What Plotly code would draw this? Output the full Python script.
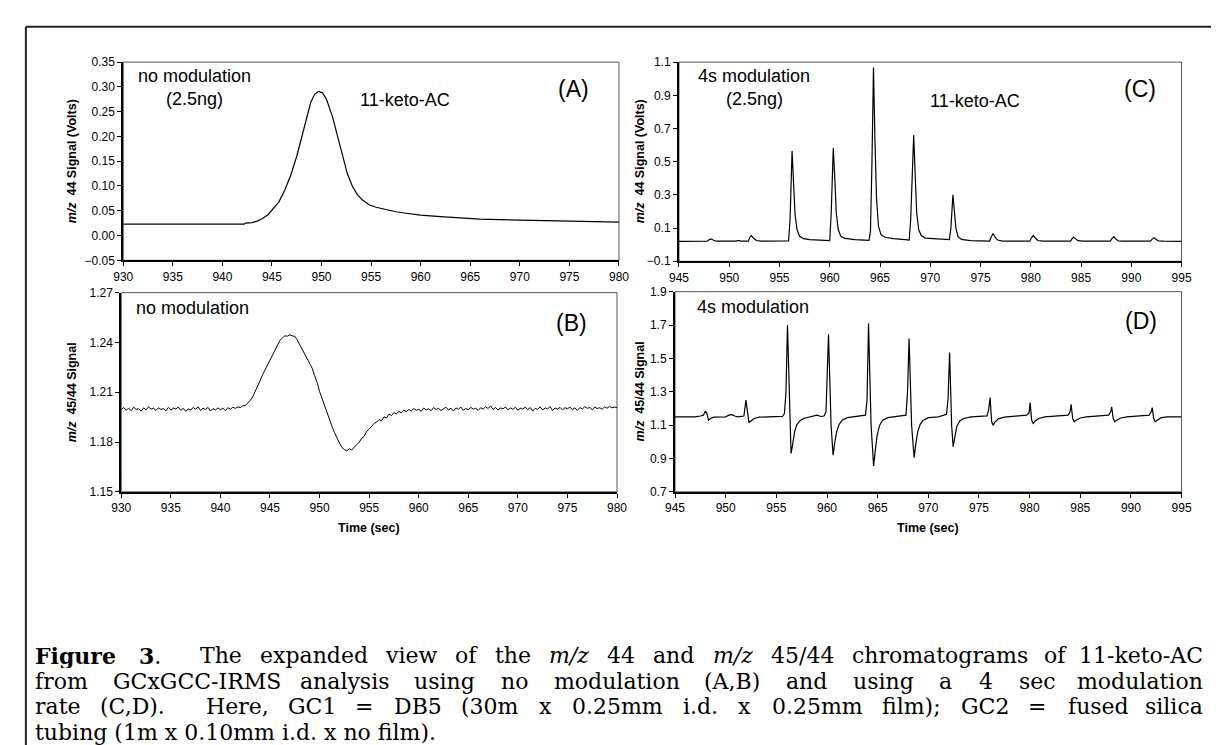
import re
import plotly.graph_objects as go

W, H = 1219, 745

# ---------------- data ----------------
A_time = [930, 942.2, 942.3, 943.0, 943.5, 944.0, 944.6, 945.2, 945.7, 946.3, 946.9, 947.5,
          948.0, 948.5, 948.9, 949.3, 949.7, 950.1, 950.5, 951.1, 951.6, 952.1, 952.6, 953.1,
          953.6, 954.1, 954.8, 955.5, 956.5, 957.5, 958.5, 960.0, 962.0, 964.0, 966.0, 968.0,
          970.0, 972.0, 975.0, 977.0, 980.0]
A_signal = [0.023, 0.023, 0.025, 0.026, 0.029, 0.034, 0.042, 0.055, 0.068, 0.092, 0.122, 0.160,
            0.200, 0.240, 0.268, 0.285, 0.291, 0.288, 0.275, 0.240, 0.200, 0.160, 0.125, 0.100,
            0.083, 0.072, 0.062, 0.057, 0.052, 0.048, 0.045, 0.041, 0.038, 0.035, 0.033, 0.032,
            0.031, 0.030, 0.029, 0.028, 0.027]

B_start, B_step = 930.0, 0.25
B_ratio = [
    1.1995, 1.2008, 1.1992, 1.2003, 1.1989, 1.2010, 1.1997, 1.2001, 1.1986, 1.2006,
    1.1994, 1.2012, 1.1998, 1.2004, 1.1990, 1.2007, 1.1996, 1.2002, 1.1988, 1.2009,
    1.1993, 1.2005, 1.1999, 1.2011, 1.1991, 1.2003, 1.1985, 1.2000, 1.1994, 1.2008,
    1.1997, 1.2013, 1.1990, 1.2004, 1.1996, 1.2009, 1.1987, 1.2002, 1.1993, 1.2006,
    1.1995, 1.2004, 1.1990, 1.2007, 1.1998, 1.2010, 1.2003, 1.2012, 1.2008, 1.2018,
    1.2020, 1.2035, 1.2050, 1.2072, 1.2105, 1.2128, 1.2170, 1.2205, 1.2235, 1.2270,
    1.2298, 1.2325, 1.2362, 1.2385, 1.2412, 1.2428, 1.2440, 1.2438, 1.2446, 1.2440,
    1.2437, 1.2415, 1.2385, 1.2362, 1.2330, 1.2305, 1.2270, 1.2245, 1.2200, 1.2160,
    1.2105, 1.2062, 1.2015, 1.1970, 1.1935, 1.1895, 1.1858, 1.1822, 1.1795, 1.1768,
    1.1755, 1.1748, 1.1760, 1.1752, 1.1772, 1.1785, 1.1800, 1.1822, 1.1835, 1.1865,
    1.1878, 1.1895, 1.1912, 1.1920, 1.1935, 1.1928, 1.1952, 1.1945, 1.1968, 1.1960,
    1.1978, 1.1970, 1.1985, 1.1976, 1.1992, 1.1983, 1.1996, 1.1988, 1.2002, 1.1991,
    1.1998, 1.1986, 1.2005, 1.1993, 1.2001, 1.1989, 1.2008, 1.1996, 1.2003, 1.1990,
    1.1999, 1.2010, 1.1994, 1.2004, 1.1987, 1.2006, 1.1997, 1.2011, 1.1992, 1.2002,
    1.1995, 1.2009, 1.1998, 1.2004, 1.1991, 1.2007, 1.1999, 1.2013, 1.2002, 1.2018,
    1.1996, 1.2008, 1.1993, 1.2005, 1.2000, 1.2012, 1.1994, 1.2006, 1.1997, 1.2010,
    1.1992, 1.2004, 1.1999, 1.2011, 1.1995, 1.2008, 1.1987, 1.2003, 1.1997, 1.2012,
    1.1993, 1.2006, 1.2000, 1.2014, 1.1990, 1.2005, 1.1998, 1.2009, 1.1994, 1.2007,
    1.2001, 1.2010, 1.1996, 1.2006, 1.1991, 1.2008, 1.1999, 1.2013, 1.2003, 1.2009,
    1.1995, 1.2011, 1.2002, 1.2007, 1.1998, 1.2012, 1.2004, 1.2015, 1.2006, 1.2011,
    1.2008]
B_time = [round(B_start + B_step * i, 2) for i in range(len(B_ratio))]

C_time = [945.0, 947.8, 948.0, 948.2, 948.4, 948.7, 950.7, 950.8, 951.0, 951.1, 951.9, 952.05,
          952.2, 952.4, 952.7, 953.2, 955.9, 956.05, 956.25, 956.4, 956.55, 956.75, 957.0, 957.4,
          958.0, 959.0, 959.8, 960.0, 960.15, 960.35, 960.5, 960.65, 960.85, 961.1, 961.5, 962.5,
          963.9, 964.05, 964.2, 964.35, 964.5, 964.65, 964.85, 965.1, 965.5, 966.3, 967.5, 967.9,
          968.05, 968.2, 968.35, 968.5, 968.65, 968.85, 969.1, 969.5, 970.5, 971.5, 971.9, 972.05,
          972.25, 972.4, 972.55, 972.75, 973.1, 974.0, 975.9, 976.05, 976.25, 976.45, 976.7, 977.2,
          979.9, 980.05, 980.25, 980.45, 980.7, 981.2, 982.7, 982.8, 983.1, 983.2, 983.95, 984.1,
          984.25, 984.45, 984.7, 985.2, 987.9, 988.05, 988.25, 988.45, 988.7, 989.2, 991.9, 992.05,
          992.25, 992.45, 992.7, 993.2, 995.0]
C_signal = [0.020, 0.021, 0.030, 0.035, 0.028, 0.021, 0.021, 0.025, 0.025, 0.021, 0.021, 0.045,
            0.055, 0.040, 0.025, 0.021, 0.022, 0.150, 0.565, 0.380, 0.180, 0.090, 0.050, 0.036,
            0.030, 0.027, 0.024, 0.025, 0.200, 0.583, 0.400, 0.190, 0.090, 0.050, 0.038, 0.030,
            0.026, 0.080, 0.500, 1.068, 0.620, 0.280, 0.110, 0.060, 0.045, 0.036, 0.031, 0.028,
            0.150, 0.450, 0.660, 0.420, 0.190, 0.090, 0.055, 0.040, 0.034, 0.031, 0.030, 0.100,
            0.300, 0.200, 0.100, 0.050, 0.032, 0.024, 0.022, 0.045, 0.067, 0.045, 0.028, 0.021,
            0.021, 0.040, 0.056, 0.040, 0.025, 0.021, 0.021, 0.025, 0.025, 0.021, 0.021, 0.035,
            0.046, 0.035, 0.024, 0.021, 0.021, 0.035, 0.048, 0.035, 0.023, 0.021, 0.021, 0.032,
            0.042, 0.032, 0.022, 0.021, 0.020]

D_time = [945.0, 947.0, 947.5, 947.8, 948.0, 948.15, 948.3, 948.5, 948.8, 950.0, 950.3, 950.6,
          950.9, 951.2, 951.8, 952.0, 952.15, 952.3, 952.5, 952.8, 953.3, 955.6, 955.8, 955.95,
          956.1, 956.3, 956.45, 956.6, 956.8, 957.0, 957.3, 957.7, 958.3, 959.0, 959.4, 959.7,
          959.9, 960.0, 960.15, 960.4, 960.6, 960.75, 960.95, 961.2, 961.5, 962.0, 963.0, 963.8,
          963.95, 964.1, 964.35, 964.6, 964.75, 964.95, 965.2, 965.5, 966.0, 967.0, 967.8, 967.95,
          968.1, 968.35, 968.6, 968.75, 968.95, 969.2, 969.5, 970.0, 971.0, 971.8, 971.95, 972.1,
          972.3, 972.45, 972.6, 972.8, 973.1, 973.5, 974.2, 975.8, 975.95, 976.1, 976.25, 976.4,
          976.6, 976.9, 977.5, 979.7, 979.95, 980.05, 980.2, 980.35, 980.55, 980.9, 981.5, 983.8,
          984.0, 984.1, 984.25, 984.4, 984.6, 985.0, 985.6, 987.8, 988.0, 988.1, 988.25, 988.4,
          988.6, 989.0, 989.6, 991.8, 992.0, 992.1, 992.25, 992.4, 992.6, 993.0, 993.6, 995.0]
D_ratio = [1.150, 1.150, 1.155, 1.160, 1.185, 1.170, 1.130, 1.140, 1.148, 1.150, 1.160, 1.163,
           1.155, 1.150, 1.155, 1.250, 1.180, 1.115, 1.125, 1.140, 1.148, 1.152, 1.170, 1.300,
           1.700, 1.150, 0.930, 0.980, 1.060, 1.100, 1.125, 1.140, 1.150, 1.160, 1.152, 1.155,
           1.180, 1.400, 1.645, 1.100, 0.920, 0.990, 1.060, 1.105, 1.130, 1.145, 1.152, 1.160,
           1.250, 1.710, 1.100, 0.855, 0.940, 1.040, 1.100, 1.130, 1.145, 1.152, 1.160, 1.300,
           1.620, 1.100, 0.905, 0.980, 1.060, 1.105, 1.130, 1.145, 1.150, 1.165, 1.260, 1.535,
           1.100, 0.970, 1.030, 1.090, 1.125, 1.140, 1.150, 1.155, 1.190, 1.265, 1.120, 1.100,
           1.120, 1.138, 1.148, 1.160, 1.175, 1.235, 1.130, 1.110, 1.125, 1.140, 1.150, 1.160,
           1.180, 1.225, 1.140, 1.120, 1.130, 1.143, 1.150, 1.160, 1.180, 1.210, 1.140, 1.120,
           1.130, 1.143, 1.150, 1.160, 1.180, 1.205, 1.140, 1.120, 1.130, 1.145, 1.150, 1.150]

X_AB_ticks = [930, 935, 940, 945, 950, 955, 960, 965, 970, 975, 980]
X_CD_ticks = [945, 950, 955, 960, 965, 970, 975, 980, 985, 990, 995]
A_yticks = [-0.05, 0.00, 0.05, 0.10, 0.15, 0.20, 0.25, 0.30, 0.35]
B_yticks = [1.15, 1.18, 1.21, 1.24, 1.27]
C_yticks = [-0.1, 0.1, 0.3, 0.5, 0.7, 0.9, 1.1]
D_yticks = [0.7, 0.9, 1.1, 1.3, 1.5, 1.7, 1.9]

Y_TITLE_44 = "<b><i>m/z</i>\u00a0 44 Signal (Volts)</b>"
Y_TITLE_4544 = "<b><i>m/z</i>\u00a0 45/44 Signal</b>"
X_TITLE = "<b>Time (sec)</b>"

CAPTION_LINES = [
    "<b>Figure</b> <b>3</b>.  The expanded view of the <i>m/z</i> 44 and <i>m/z</i> 45/44 chromatograms of 11-keto-AC",
    "from GCxGCC-IRMS analysis using no modulation (A,B) and using a 4 sec modulation",
    "rate (C,D).  Here, GC1 = DB5 (30m x 0.25mm i.d. x 0.25mm film); GC2 = fused silica",
    "tubing (1m x 0.10mm i.d. x no film).",
]

# ---------------- layout helpers ----------------
SANS = "Liberation Sans, Arial, sans-serif"
SERIF = "DejaVu Serif, Liberation Serif, serif"


def px_x(p):
    return p / W


def px_y(p):
    return 1 - p / H


def xaxis(dom, ticks, anchor):
    return dict(domain=[px_x(dom[0]), px_x(dom[1])], range=[ticks[0], ticks[-1]], tickvals=ticks,
                ticks="outside", ticklen=4, tickwidth=1, tickcolor="black",
                showline=True, linecolor="black", linewidth=2, mirror=False,
                showgrid=False, zeroline=False, anchor=anchor, fixedrange=True,
                tickfont=dict(family=SANS, size=12, color="black"))


def yaxis(dom, ticks, fmt, anchor):
    return dict(domain=[px_y(dom[1]), px_y(dom[0])], range=[ticks[0], ticks[-1]], tickvals=ticks,
                tickformat=fmt, ticks="outside", ticklen=4, tickwidth=1, tickcolor="black",
                showline=True, linecolor="black", linewidth=2, mirror=False,
                showgrid=False, zeroline=False, anchor=anchor, fixedrange=True,
                tickfont=dict(family=SANS, size=12, color="black"))


fig = go.Figure()
line = dict(color="black", width=1.2)
fig.add_trace(go.Scatter(x=A_time, y=A_signal, mode="lines", line=line, xaxis="x", yaxis="y"))
fig.add_trace(go.Scatter(x=B_time, y=B_ratio, mode="lines", line=dict(color="black", width=1), xaxis="x2", yaxis="y2"))
fig.add_trace(go.Scatter(x=C_time, y=C_signal, mode="lines", line=line, xaxis="x3", yaxis="y3"))
fig.add_trace(go.Scatter(x=D_time, y=D_ratio, mode="lines", line=line, xaxis="x4", yaxis="y4"))

# pixel boxes of the four plot areas (left, right) / (top, bottom)
A_box = ((107, 611), (48, 250))
B_box = ((105, 609), (283, 486))
C_box = ((672, 1183), (48, 251))
D_box = ((668, 1183), (282, 486))

fig.update_layout(
    width=W, height=H, margin=dict(l=0, r=0, t=0, b=0),
    paper_bgcolor="white", plot_bgcolor="white", showlegend=False,
    xaxis=xaxis(A_box[0], X_AB_ticks, "y"), yaxis=yaxis(A_box[1], A_yticks, ".2f", "x"),
    xaxis2=xaxis(B_box[0], X_AB_ticks, "y2"), yaxis2=yaxis(B_box[1], B_yticks, ".2f", "x2"),
    xaxis3=xaxis(C_box[0], X_CD_ticks, "y3"), yaxis3=yaxis(C_box[1], C_yticks, ".1f", "x3"),
    xaxis4=xaxis(D_box[0], X_CD_ticks, "y4"), yaxis4=yaxis(D_box[1], D_yticks, ".1f", "x4"),
)

shapes = []
for i in ["", "2", "3", "4"]:
    shapes.append(dict(type="rect", xref=f"x{i} domain", yref=f"y{i} domain", x0=0, x1=1, y0=0, y1=1,
                       line=dict(color="#555555", width=1), layer="below"))
# outer frame of the figure (top and left edges visible)
shapes.append(dict(type="line", xref="paper", yref="paper", x0=px_x(8), x1=1.01, y0=px_y(12), y1=px_y(12),
                   line=dict(color="#222222", width=2)))
shapes.append(dict(type="line", xref="paper", yref="paper", x0=px_x(8), x1=px_x(8), y0=px_y(12), y1=-0.01,
                   line=dict(color="#222222", width=2)))
fig.update_layout(shapes=shapes)

ann = []


def txt(text, x, y, xr, yr, size=18, xanchor="left"):
    ann.append(dict(text=text, x=x, y=y, xref=xr, yref=yr, xanchor=xanchor, yanchor="middle",
                    showarrow=False, font=dict(family=SANS, size=size, color="black")))


# panel texts (data coordinates)
txt("no modulation", 931.3, 0.322, "x", "y")
txt("(2.5ng)", 934.1, 0.276, "x", "y")
txt("11-keto-AC", 953.7, 0.274, "x", "y")
txt("(A)", 973.6, 0.296, "x", "y", size=23)
txt("no modulation", 931.3, 1.261, "x2", "y2")
txt("(B)", 973.6, 1.252, "x2", "y2", size=23)
txt("4s modulation", 946.7, 1.017, "x3", "y3")
txt("(2.5ng)", 949.5, 0.878, "x3", "y3")
txt("11-keto-AC", 969.8, 0.864, "x3", "y3")
txt("(C)", 989.1, 0.937, "x3", "y3", size=23)
txt("4s modulation", 947.0, 1.811, "x4", "y4")
txt("(D)", 989.2, 1.722, "x4", "y4", size=23)

# axis titles
for text, xp, box in [(Y_TITLE_44, 55, A_box), (Y_TITLE_4544, 55, B_box),
                      (Y_TITLE_44, 632, C_box), (Y_TITLE_4544, 632, D_box)]:
    ann.append(dict(text=text, x=px_x(xp), y=px_y((box[1][0] + box[1][1]) / 2), xref="paper", yref="paper",
                    xanchor="center", yanchor="middle", textangle=-90, showarrow=False,
                    font=dict(family=SANS, size=12.5, color="black")))
for box in [B_box, D_box]:
    ann.append(dict(text=X_TITLE, x=px_x((box[0][0] + box[0][1]) / 2), y=px_y(523), xref="paper", yref="paper",
                    xanchor="center", yanchor="middle", showarrow=False,
                    font=dict(family=SANS, size=12.5, color="black")))

# ---------------- caption (justified, word by word) ----------------
# approximate DejaVu Serif advance widths (em)
TR = {' ': .318, '(': .390, ')': .390, ',': .318, '-': .337, '.': .318, '/': .337, ';': .337, '=': .838}
for d in "0123456789":
    TR[d] = .636
TR.update(dict(A=.722, B=.716, C=.732, D=.787, G=.781, H=.824, I=.378, M=.950, R=.732, S=.648,
               F=.683, T=.676, E=.683,
               a=.597, b=.640, c=.560, d=.640, e=.592, f=.369, g=.640, h=.640, i=.320, k=.610,
               l=.320, m=.950, n=.640, o=.602, p=.640, r=.478, s=.516, t=.401, u=.640, v=.579,
               w=.862, x=.579, y=.579, z=.527))
TB = dict(TR)
TB.update({"F": .79, "i": .42, "g": .70, "u": .76, "r": .60, "e": .68, "3": .76})
TI = dict(TR)
TI.update({"m": .95, "/": .337, "z": .525})
TABLES = {"r": TR, "b": TB, "i": TI}


def width(word, size):
    w, style = 0, "r"
    for tok in re.split(r"(</?[bi]>)", word):
        if tok in ("<b>", "<i>"):
            style = tok[1]
        elif tok in ("</b>", "</i>"):
            style = "r"
        else:
            w += sum(TABLES[style].get(ch, .6) for ch in tok)
    return w * size


CAP_SIZE = 22
CAP_BOX_H = 25
CAP_LEFT, CAP_RIGHT = 16, 1206
CAP_Y = [653, 679, 705, 731]


def cap_text(text, x, y, xanchor):
    ann.append(dict(text=text, x=px_x(x), y=px_y(y), xref="paper", yref="paper",
                    xanchor=xanchor, yanchor="middle", showarrow=False, height=CAP_BOX_H, borderpad=0,
                    font=dict(family=SERIF, size=CAP_SIZE, color="black")))


for k, line_text in enumerate(CAPTION_LINES):
    if k == len(CAPTION_LINES) - 1:
        cap_text(line_text, CAP_LEFT, CAP_Y[k], "left")
        continue
    parts = line_text.split(" ")
    words, gaps = [], []
    for p in parts:
        if p == "":
            gaps[-1] += 1
        else:
            words.append(p)
            gaps.append(1)
    gaps = gaps[:-1]
    total_w = sum(width(w_, CAP_SIZE) for w_ in words)
    g = (CAP_RIGHT - CAP_LEFT - total_w) / sum(gaps)
    xpos = CAP_LEFT
    for j, w_ in enumerate(words):
        last = (j == len(words) - 1)
        cap_text(w_, CAP_RIGHT if last else xpos, CAP_Y[k], "right" if last else "left")
        xpos += width(w_, CAP_SIZE) + (g * gaps[j] if j < len(gaps) else 0)

fig.update_layout(annotations=ann)
fig.write_html("out.html", config={"displayModeBar": False})
